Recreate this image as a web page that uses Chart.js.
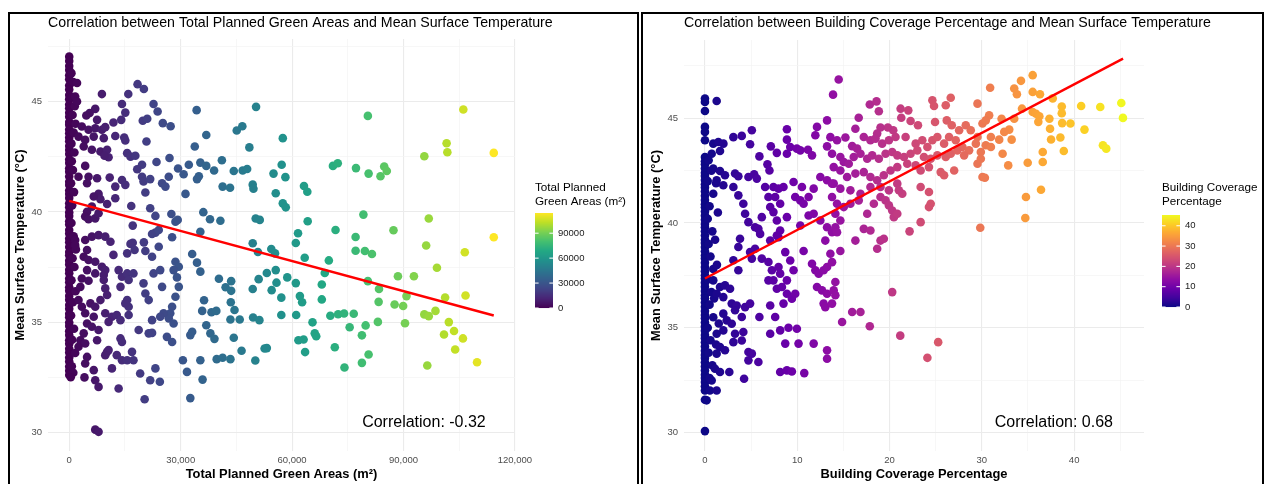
<!DOCTYPE html>
<html><head><meta charset="utf-8">
<script src="https://cdn.jsdelivr.net/npm/chart.js@4.4.0/dist/chart.umd.min.js"></script>
<style>
html,body{margin:0;padding:0;background:#fff;width:1264px;height:484px;overflow:hidden}
.frame{position:absolute;border:2px solid #000;box-sizing:border-box}
canvas{position:absolute;left:0;top:0}
</style></head><body>
<div class="frame" style="left:8px;top:12px;width:631px;height:490px"></div>
<div class="frame" style="left:641px;top:12px;width:623px;height:490px"></div>
<canvas id="c1" width="1264" height="484"></canvas>
<canvas id="c2" width="1264" height="484"></canvas>
<script>
// ---------------- DATA ----------------
// Left: [Total Planned Green Areas (m²), Mean Surface Temperature (°C)]
const greenAreaPoints = [
[0,47.05],[0,46.85],[0,46.62],[0,46.44],[0,46.2],[0,46.02],[0,45.74],[0,45.56],[0,45.31],[0,45.12],[0,44.88],[0,44.71],[0,44.5],[0,44.32],[0,44.08],[0,43.96],[0,43.74],[0,43.57],[0,43.38],[0,43.21],[0,42.99],[0,42.81],[0,42.63],[0,42.38],[0,42.22],[0,41.98],[0,41.83],[0,41.61],[0,41.37],[0,41.22],[0,40.97],[0,40.81],[0,40.63],[0,40.39],[0,40.21],[0,39.98],[0,39.82],[0,39.58],[0,39.43],[0,39.18],[0,39.02],[0,38.79],[0,38.62],[0,38.41],[0,38.18],[0,38.03],[0,37.79],[0,37.62],[0,37.38],[0,37.22],[0,36.98],[0,36.81],[0,36.58],[0,36.42],[0,36.19],[0,36.01],[0,35.78],[0,35.61],[0,35.38],[0,35.22],[0,34.98],[0,34.82],[0,34.59],[0,34.41],[0,34.18],[0,34.02],[0,33.79],[0,33.62],[0,33.39],[0,33.21],[0,32.98],[0,32.79],[0,32.6],
[600,46.3],[1100,45.9],[800,45.2],[1500,44.8],[900,44.4],[1700,44.0],[1200,43.6],[600,43.1],[1400,42.7],[700,42.3],[1000,41.9],[500,41.3],[1300,40.9],[800,40.3],[600,39.5],[1200,38.9],[1800,38.3],[900,37.9],[1400,37.5],[600,36.9],[1700,36.4],[1000,35.9],[500,35.3],[1300,34.7],[800,34.2],[1600,33.6],[700,33.0],[1100,32.7],[400,32.5],
[2100,45.85],[1600,45.24],[2100,45.01],[8800,45.35],[18400,45.8],[20100,45.58],[15900,45.35],[14200,44.9],[22700,44.9],[23800,44.56],[15100,44.51],[34300,44.62],[7000,44.68],[5500,44.49],[4600,44.38],[11900,44.06],[14000,44.18],[19800,44.14],[21000,44.23],[25200,44.03],[27300,43.89],[7500,44.18],[3400,43.88],[5200,43.73],[7000,43.8],[8800,43.73],[9700,43.85],[2500,43.42],[4300,43.27],[6600,43.42],[9300,43.35],[12400,43.45],[14800,43.38],[15100,43.24],[20800,43.2],[33800,42.97],[3900,42.97],[6100,42.82],[8400,42.74],[10200,42.82],[10600,42.48],[9500,42.55],[15600,42.67],[16500,42.51],[17800,42.55],[23500,42.27],[27000,42.45],[4300,42.09],[19600,42.14],[18300,41.94],[29300,41.97],[30800,41.71],[32200,42.14],[34900,41.62],[34400,41.49],[2500,41.6],[5200,41.6],[7500,41.53],[4800,41.3],[10900,41.56],[12400,41.15],[14200,41.45],[15100,41.23],[19600,41.6],[20000,41.38],[21800,41.49],[25000,41.3],[25900,41.15],[26800,41.6],[31300,40.82],[20500,40.88],[16700,40.27],[7900,40.82],[8400,40.58],[6600,40.7],[6100,40.24],[4800,40.01],[4300,39.79],[5200,39.67],[10200,40.36],[12400,40.62],[7000,39.71],[7900,39.94],[21800,40.17],[23200,39.82],[27500,39.91],[28600,39.56],[29200,39.64],[17100,39.38],[23200,39.06],[22300,39.0],[24100,39.18],[27700,38.85],[1600,38.73],[1600,38.5],[4300,38.73],[6100,38.88],[7900,38.95],[9700,38.88],[11100,38.65],[4800,38.27],[3900,37.97],[5200,37.82],[7000,37.74],[11900,38.05],[15600,38.12],[17100,38.6],[16500,38.55],[17600,38.27],[20100,38.62],[20500,38.23],[24100,38.42],[22300,37.97],[33100,38.09],[34400,37.7],[28600,37.74],[29500,37.51],[28100,37.36],[8800,37.51],[9700,37.36],[9300,37.14],[7000,37.21],[4800,37.36],[13300,37.36],[14200,37.06],[15600,37.21],[16000,36.91],[13800,36.6],[17300,37.21],[3400,36.98],[3000,36.6],[5200,36.88],[9300,36.91],[9700,36.53],[10200,36.23],[20000,36.76],[20500,36.3],[21400,36.0],[22700,37.21],[24500,37.36],[25000,36.6],[29000,37.03],[29500,36.6],[28600,36.15],[27700,35.7],[27200,35.4],[26800,35.17],[28100,34.94],[25400,35.4],[24500,35.24],[15600,36.0],[16000,35.7],[15100,35.85],[2500,36.0],[3400,35.7],[4300,35.4],[5700,35.85],[7000,35.7],[8400,36.0],[9700,35.4],[6600,35.24],[11500,35.24],[12800,35.32],[13800,35.09],[16000,35.32],[4800,34.94],[6100,34.79],[7900,34.64],[10600,35.01],[3900,34.49],[3000,34.18],[4300,34.03],[2500,33.88],[7500,34.18],[13800,34.26],[14200,34.1],[18700,34.64],[21400,34.49],[22300,34.51],[22300,35.09],[26300,34.33],[27700,34.1],[32600,34.41],[33100,34.56],[10200,33.65],[10600,33.73],[9700,33.5],[12800,33.5],[14200,33.27],[15600,33.27],[17300,33.27],[16900,33.65],[4800,33.42],[4300,33.12],[6600,32.82],[11500,32.9],[13300,31.99],[4100,32.49],[7000,32.36],[7900,32.06],[19100,32.67],[21800,32.36],[23200,32.9],[24400,32.29],[20300,31.5],[30600,33.27],[31700,32.74],[32600,31.55],[7000,30.12],[7900,30.02],
[50300,44.77],[45100,43.7],[46600,43.89],[36900,43.49],[48500,42.93],[57500,43.35],[41100,42.35],[35300,42.24],[36900,42.09],[39000,41.88],[44300,41.86],[46700,41.88],[47900,41.95],[57200,42.14],[55000,41.74],[58200,41.58],[41300,41.15],[43300,41.1],[49400,41.24],[49600,41.05],[55600,40.85],[57500,40.39],[58300,40.21],[63200,41.18],[64100,40.92],[71000,42.09],[72300,42.21],[77200,41.99],[36100,39.99],[37900,39.67],[40700,39.6],[50200,39.7],[51300,39.64],[64200,39.58],[71700,39.18],[61600,39.03],[61000,38.59],[35300,39.1],[49400,38.58],[50800,38.18],[54400,38.32],[55400,38.12],[63400,37.92],[69900,37.8],[68800,37.23],[35300,37.29],[40300,36.97],[42100,36.58],[43600,36.86],[43600,36.42],[51000,36.95],[53200,37.23],[55600,37.36],[55800,36.79],[54500,36.45],[49400,36.5],[58700,37.03],[61000,36.77],[57100,36.11],[62100,36.18],[62700,35.9],[68000,36.71],[68000,36.03],[36300,35.99],[35800,35.51],[38300,35.45],[39600,35.51],[43500,35.9],[44500,35.55],[43400,35.12],[45900,35.12],[49500,35.21],[51200,35.09],[57100,35.32],[61100,35.32],[70300,35.29],[72400,35.36],[74000,35.39],[76600,35.38],[36900,34.86],[38000,34.49],[39100,34.24],[44300,34.29],[65500,34.99],[66100,34.49],[66500,34.36],[75500,34.77],[61700,34.18],[63100,34.21],[63500,33.64],[71500,33.86],[46400,33.7],[52600,33.8],[53200,33.82],[35300,33.27],[39700,33.32],[41300,33.38],[43400,33.32],[50100,33.26],[74100,32.94],[35900,32.39],
[80400,44.36],[106100,44.65],[101600,43.12],[101800,42.71],[95600,42.53],[114300,42.68],[80600,41.74],[83800,41.62],[84800,42.06],[85500,41.86],[79200,39.88],[96800,39.7],[87300,39.17],[114300,38.85],[77100,38.86],[96100,38.48],[106500,38.17],[79600,38.23],[81500,38.09],[77100,38.24],[99000,37.47],[88500,37.08],[92800,37.08],[80400,36.86],[83400,36.5],[90800,36.18],[87600,35.8],[89900,35.73],[101200,36.12],[106700,36.21],[83300,35.92],[95600,35.35],[96800,35.27],[98600,35.51],[102200,35.0],[83100,35.01],[90400,34.95],[79800,34.85],[100900,34.44],[103600,34.6],[106000,34.26],[78800,34.4],[103900,33.76],[80600,33.53],[78800,33.15],[96400,33.03],[109800,33.18]
];
const greenTrend = [[0,40.5],[114300,35.3]];
const greenXTicks = [0,15000,30000,45000,60000,75000,90000,105000,120000];
const greenXLabels = [0,30000,60000,90000,120000];
const tempYTicks = [30,32.5,35,37.5,40,42.5,45,47.5];
const tempYLabels = [30,35,40,45];
const greenLegendTicks = [0,30000,60000,90000];
const greenMax = 114300;
const greenCorrelation = "Correlation: -0.32";
const greenCorrAt = [95500,30.45];

// Right: [Building Coverage Percentage, Mean Surface Temperature (°C)]
const coveragePoints = [
[0,45.94],[0,45.78],[0,45.35],[0,44.59],[0,44.35],[0,43.95],[1.27,45.83],
[0,43.15],[0,42.95],[0,42.8],[0,42.6],[0,42.4],[0,42.25],[0,42.05],[0,41.85],[0,41.7],[0,41.5],[0,41.3],[0,41.1],[0,40.9],[0,40.75],[0,40.55],[0,40.35],[0,40.15],[0,39.95],[0,39.8],[0,39.6],[0,39.4],[0,39.2],[0,39.05],[0,38.85],[0,38.65],[0,38.45],[0,38.3],[0,38.1],[0,37.9],[0,37.7],[0,37.5],[0,37.35],[0,37.15],[0,36.95],[0,36.75],[0,36.55],[0,36.4],[0,36.2],[0,36.0],[0,35.8],[0,35.6],[0,35.45],[0,35.25],[0,35.05],[0,34.85],[0,34.65],[0,34.5],[0,34.3],[0,34.1],[0,33.9],[0,33.7],[0,33.55],[0,33.35],[0,33.15],[0,32.95],[0,32.75],[0,32.6],[0,32.4],[0,32.2],[0,32.0],
[0.4,43.0],[0.7,42.5],[0.3,42.0],[0.9,41.4],[0.5,40.8],[0.3,40.2],[0.8,39.6],[0.4,39.0],[0.6,38.4],[0.9,37.8],[0.3,37.3],[0.7,36.7],[0.5,36.1],[0.9,35.5],[0.3,35.0],[0.6,34.4],[0.4,33.8],[0.8,33.2],[0.5,32.6],[1.2,41.9],[1.4,40.5],[1.1,39.2],[1.3,38.0],[1.0,36.4],[1.5,35.2],[1.2,34.2],
[0.9,43.79],[1.45,43.87],[2.0,43.79],[3.08,44.1],[3.99,44.16],[5.08,44.43],[4.89,43.76],[1.63,43.44],[0.73,43.31],[5.9,43.18],[7.14,43.66],[7.79,43.35],[6.77,42.8],[6.99,42.51],[8.88,44.48],[8.88,43.98],[9.24,43.63],[9.96,43.55],[10.33,43.47],[8.88,43.31],[11.16,43.5],[11.6,43.23],[12.14,44.59],[11.96,44.19],[13.23,44.9],[13.59,44.1],[13.23,43.66],
[0.9,42.6],[1.63,42.48],[2.17,42.28],[1.27,42.04],[1.99,41.8],[3.26,42.36],[3.62,42.23],[3.08,41.72],[3.62,41.32],[4.71,42.2],[5.33,42.33],[5.62,42.12],[4.16,40.92],[4.35,40.44],[4.71,40.04],[5.43,39.8],[5.98,39.48],[5.79,39.72],[6.52,41.72],[6.88,41.24],[7.42,41.72],[7.97,41.64],[8.51,41.72],[7.61,41.24],[8.15,40.92],[6.16,40.28],[7.07,40.76],[7.42,40.52],[7.79,40.12],[8.15,39.64],[7.79,39.4],[8.88,40.28],[9.78,41.24],[9.6,41.96],[10.51,41.72],[10.33,41.08],[10.69,40.92],[11.23,41.24],[11.78,41.64],[12.5,42.2],[13.23,42.04],[13.77,41.88],[10.33,39.88],[11.23,40.36],[11.78,40.44],[12.5,40.12],[13.23,39.8],[13.77,39.56],[13.04,39.16],[3.8,39.25],[3.62,38.85],[4.89,38.61],[5.43,38.77],[6.16,38.3],[5.08,38.3],[3.08,38.22],[3.62,37.74],[7.07,39.16],[7.97,39.32],[8.7,38.61],[9.24,38.21],[10.69,38.66],[9.6,37.74],[6.88,38.14],[7.25,37.74],[6.88,37.26],[7.42,37.26],[7.97,37.9],[8.15,37.58],[7.79,36.86],[8.34,36.94],[8.88,37.26],[8.88,36.62],[9.42,36.38],[9.78,36.62],[8.51,36.15],[11.6,38.05],[11.96,37.74],[12.32,37.58],[12.86,37.74],[13.23,37.9],[12.14,36.94],[12.68,36.78],[13.23,36.62],[12.86,36.15],[13.04,35.98],[0.9,37.26],[1.63,36.94],[2.17,37.02],[2.72,36.86],[1.27,36.62],[1.99,36.46],[2.9,36.15],[3.44,36.06],[4.35,35.98],[4.89,36.15],[3.26,35.83],[1.99,35.67],[2.36,35.35],[2.9,35.19],[3.99,35.51],[5.9,35.51],[7.07,36.06],[7.61,35.51],[7.07,34.71],[8.15,34.87],[9.05,35.0],[9.96,34.95],[8.7,34.24],[10.14,34.24],[11.78,34.24],[13.23,33.92],[13.23,33.52],[1.99,34.87],[1.27,34.71],[3.26,34.71],[4.16,34.79],[3.08,34.31],[1.63,34.07],[2.17,33.92],[1.27,33.76],[3.99,34.39],[4.71,33.84],[5.08,33.76],[4.71,33.44],[5.79,33.36],[1.09,33.04],[1.63,32.88],[2.64,32.88],[4.24,32.56],[8.15,32.88],[8.88,32.96],[9.42,32.91],[10.76,32.83],[0.73,32.48],[0.54,32.0],[1.27,32.0],[0,31.56],[0.18,31.53],[0,30.06],
[14.49,46.85],[13.88,46.13],[17.86,45.66],[18.59,45.81],[18.84,45.34],[16.66,45.03],[16.3,44.5],[21.2,45.46],[22.03,45.38],[22.28,44.87],[21.27,45.03],[24.64,45.86],[24.82,45.59],[26.09,45.62],[26.63,45.98],[24.93,44.82],[26.2,44.9],[23.08,44.67],[20.4,44.43],[19.82,44.56],[19.02,44.56],[18.66,44.27],[29.53,45.7],[26.74,44.67],[27.54,44.43],[28.26,44.67],[28.8,44.43],[29.53,44.11],[30.07,44.75],
[14.31,43.95],[15.22,44.08],[15.95,43.67],[16.49,43.55],[17.21,44.11],[17.93,43.95],[18.48,44.03],[19.2,43.79],[19.93,43.95],[20.65,44.11],[21.74,44.11],[22.83,43.79],[23.55,43.95],[24.1,43.63],[24.64,43.95],[25.18,44.11],[25.91,43.79],[26.45,44.11],[27.17,43.95],[27.9,43.63],[28.62,43.47],[29.35,43.79],[29.89,43.39],
[13.77,43.31],[14.67,43.15],[15.04,42.91],[15.58,42.83],[16.12,43.15],[16.85,43.31],[17.58,43.07],[18.12,43.23],[18.84,43.07],[19.57,43.31],[20.29,43.39],[20.84,43.23],[21.56,43.15],[22.28,43.31],[23.01,43.47],[23.73,43.15],[24.46,43.07],[25.18,43.23],[26.09,43.15],[26.63,43.31],[27.35,43.47],[28.08,43.23],
[13.95,42.67],[14.67,42.51],[15.4,42.2],[16.3,42.36],[17.21,42.43],[17.93,42.2],[18.66,42.04],[19.38,42.28],[20.11,42.51],[20.84,42.67],[21.92,42.83],[22.83,42.75],[23.37,42.51],[24.27,42.67],[25.54,42.43],[25.91,42.28],[27.0,42.51],
[13.95,41.88],[14.67,41.64],[15.76,41.56],[16.85,41.4],[17.93,41.72],[19.02,41.72],[19.93,41.56],[20.84,41.88],[21.38,41.4],[23.37,41.72],[24.27,41.48],[24.46,40.92],[24.27,40.76],
[13.77,41.24],[14.31,40.92],[14.13,40.44],[14.67,40.12],[14.13,39.8],[15.04,40.76],[15.76,40.92],[16.66,41.08],[17.58,40.44],[18.3,40.92],[19.02,41.24],[19.57,41.08],[19.93,40.84],[20.29,40.6],[20.47,40.28],[21.01,41.56],[20.84,40.44],
[17.21,39.72],[17.93,39.64],[19.02,39.16],[19.38,39.25],[18.66,38.77],[16.3,39.16],[14.31,39.56],[14.67,38.66],[13.77,38.13],[13.59,38.53],[22.17,39.6],[23.37,40.04],[29.83,39.77],[30.07,42.2],[29.53,42.83],[29.89,43.07],
[14.13,37.18],[13.95,36.78],[14.13,36.55],[13.77,36.15],[20.29,36.7],[15.95,35.75],[16.85,35.75],[14.86,35.27],[17.86,35.07],[21.16,34.62],[25.27,34.31],[24.1,33.56],
[35.51,47.06],[34.24,46.79],[30.9,46.46],[33.51,46.42],[33.8,46.15],[35.51,46.26],[36.3,46.15],[37.68,45.95],[34.35,45.46],[35.51,45.3],[35.87,45.22],[36.23,45.1],[36.12,44.83],[37.32,44.98],[37.39,44.5],[37.5,43.99],[38.66,45.56],[38.66,45.24],[38.7,44.77],[39.6,44.75],[40.76,45.59],[42.83,45.54],[45.11,45.73],[45.29,45.02],[41.12,44.46],[38.51,44.08],[38.88,43.44],[36.6,43.39],[36.6,42.91],[34.97,42.88],[43.12,43.71],[43.48,43.55],[36.41,41.59],[34.78,41.24],[34.71,40.24],[33.51,44.98],[32.14,44.98],[30.79,45.14],[30.43,44.9],[32.97,44.46],[32.43,44.35],[31.88,43.98],[30.98,44.11],[30.43,43.71],[30.98,43.63],[33.23,43.98],[32.25,43.31],[32.86,42.75],[30.33,42.16]
];
const coverageTrend = [[0,37.35],[45.3,47.85]];
const coverageXTicks = [0,5,10,15,20,25,30,35,40,45];
const coverageXLabels = [0,10,20,30,40];
const coverageLegendTicks = [0,10,20,30,40];
const coverageMax = 45.3;
const coverageCorrelation = "Correlation: 0.68";
const coverageCorrAt = [37.8,30.48];

// ---------------- COLOUR MAPS ----------------
const VIRIDIS = ['#440154','#482475','#414487','#355f8d','#2a788e','#21918c','#22a884','#44bf70','#7ad151','#bddf26','#fde725'];
const PLASMA  = ['#0d0887','#41049d','#6a00a8','#8f0da4','#b12a90','#cc4778','#e16462','#f2844b','#fca636','#fcce25','#f0f921'];
function hex(h){return [parseInt(h.slice(1,3),16),parseInt(h.slice(3,5),16),parseInt(h.slice(5,7),16)];}
function cmap(stops,t){
  t=Math.max(0,Math.min(1,t));
  const n=stops.length-1, f=t*n, i=Math.min(n-1,Math.floor(f)), u=f-i;
  const a=hex(stops[i]), b=hex(stops[i+1]);
  return 'rgb('+a.map((v,k)=>Math.round(v+(b[k]-v)*u)).join(',')+')';
}

const FONT='"Liberation Sans", Arial, Helvetica, sans-serif';

function decor(cfg){
  return {id:'decor',afterDraw(chart){
    const ctx=chart.ctx, ca=chart.chartArea, xs=chart.scales.x, ys=chart.scales.y;
    ctx.save();
    ctx.fillStyle='#000'; ctx.textBaseline='middle';
    ctx.font='14.2px '+FONT; ctx.textAlign='left';
    ctx.fillText(cfg.title, ca.left, 23);
    ctx.font='bold 12.9px '+FONT; ctx.textAlign='center';
    ctx.fillText(cfg.xTitle,(ca.left+ca.right)/2,474);
    ctx.save(); ctx.translate(cfg.yTitleX,(ca.top+ca.bottom)/2); ctx.rotate(-Math.PI/2);
    ctx.fillText(cfg.yTitle,0,0); ctx.restore();
    ctx.font='16px '+FONT; ctx.textAlign='center';
    ctx.fillText(cfg.corr, xs.getPixelForValue(cfg.corrAt[0]), ys.getPixelForValue(cfg.corrAt[1]));
    // colour bar legend
    const L=cfg.leg, w=18, h=L.bottom-L.top;
    for(let i=0;i<h;i++){
      ctx.fillStyle=cmap(cfg.stops,1-(i+0.5)/h);
      ctx.fillRect(L.x,L.top+i,w,1.05);
    }
    ctx.font='11.7px '+FONT; ctx.textAlign='left'; ctx.fillStyle='#000';
    ctx.fillText(L.title[0],L.x,188); ctx.fillText(L.title[1],L.x,202);
    ctx.font='9.5px '+FONT; ctx.fillStyle='#1a1a1a';
    ctx.strokeStyle='#fff'; ctx.lineWidth=1;
    L.ticks.forEach(v=>{
      const y=L.bottom-v/cfg.max*h;
      ctx.beginPath(); ctx.moveTo(L.x,y); ctx.lineTo(L.x+3.6,y); ctx.moveTo(L.x+w-3.6,y); ctx.lineTo(L.x+w,y); ctx.stroke();
      ctx.fillText(String(v),L.x+w+5,y);
    });
    ctx.restore();
  }};
}

function makeChart(id,cfg){
  const pts=cfg.points.map(p=>({x:p[0],y:p[1]}));
  new Chart(document.getElementById(id),{
    type:'scatter',
    data:{datasets:[
      {type:'line',data:cfg.trend.map(p=>({x:p[0],y:p[1]})),borderColor:'#ff0000',borderWidth:2.4,pointRadius:0,fill:false,order:0},
      {data:pts,pointRadius:4.3,borderWidth:0,backgroundColor:c=>cmap(cfg.stops,(c.raw?c.raw.x:0)/cfg.max),order:1}
    ]},
    plugins:[decor(cfg)],
    options:{
      responsive:false,animation:false,events:[],devicePixelRatio:1,
      layout:{padding:cfg.pad},
      plugins:{legend:{display:false},title:{display:false},tooltip:{enabled:false}},
      scales:{
        x:{type:'linear',min:cfg.xr[0],max:cfg.xr[1],
          afterBuildTicks:s=>{s.ticks=cfg.xTicks.map(v=>({value:v}));},
          afterFit:s=>{s.height=33;},
          border:{display:false},
          grid:{drawTicks:false,color:c=>cfg.xLabels.includes(c.tick.value)?'#ebebeb':'#f3f3f3',lineWidth:c=>cfg.xLabels.includes(c.tick.value)?1.1:0.7},
          ticks:{autoSkip:false,maxRotation:0,padding:4,color:'#4d4d4d',font:{family:FONT,size:9.5},
            callback:v=>cfg.xLabels.includes(v)?cfg.xFmt(v):''}},
        y:{type:'linear',min:cfg.yr[0],max:cfg.yr[1],
          afterBuildTicks:s=>{s.ticks=tempYTicks.map(v=>({value:v}));},
          afterFit:s=>{s.width=40;},
          border:{display:false},
          grid:{drawTicks:false,color:c=>tempYLabels.includes(c.tick.value)?'#ebebeb':'#f3f3f3',lineWidth:c=>tempYLabels.includes(c.tick.value)?1.1:0.7},
          ticks:{autoSkip:false,padding:6,color:'#4d4d4d',font:{family:FONT,size:9.5},
            callback:v=>tempYLabels.includes(v)?String(v):''}}
      }
    }
  });
}

makeChart('c1',{
  points:greenAreaPoints,trend:greenTrend,stops:VIRIDIS,max:greenMax,
  xr:[-5715,120015],yr:[29.15,47.85],xTicks:greenXTicks,xLabels:greenXLabels,
  xFmt:v=>v.toLocaleString('en-US'),
  pad:{left:8,right:749,top:39,bottom:0},
  title:'Correlation between Total Planned Green Areas and Mean Surface Temperature',
  xTitle:'Total Planned Green Areas (m²)',yTitle:'Mean Surface Temperature (°C)',yTitleX:20,
  corr:greenCorrelation,corrAt:greenCorrAt,
  leg:{x:535,top:213,bottom:308,title:['Total Planned','Green Areas (m²)'],ticks:greenLegendTicks}
});
makeChart('c2',{
  points:coveragePoints,trend:coverageTrend,stops:PLASMA,max:coverageMax,
  xr:[-2.27,47.57],yr:[29.11,48.74],xTicks:coverageXTicks,xLabels:coverageXLabels,
  xFmt:v=>String(v),
  pad:{left:644,right:120,top:40,bottom:0},
  title:'Correlation between Building Coverage Percentage and Mean Surface Temperature',
  xTitle:'Building Coverage Percentage',yTitle:'Mean Surface Temperature (°C)',yTitleX:656,
  corr:coverageCorrelation,corrAt:coverageCorrAt,
  leg:{x:1162,top:215,bottom:307,title:['Building Coverage','Percentage'],ticks:coverageLegendTicks}
});
</script>
</body></html>
